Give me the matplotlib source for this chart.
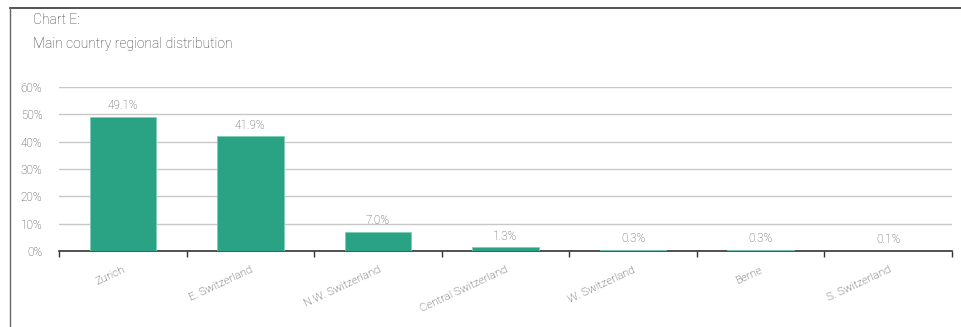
import numpy as np
import matplotlib.pyplot as plt
from matplotlib.lines import Line2D

regions = ['Zurich', 'E. Switzerland', 'N.W. Switzerland', 'Central Switzerland',
           'W. Switzerland', 'Berne', 'S. Switzerland']
shares = [49.1, 41.9, 7.0, 1.3, 0.3, 0.3, 0.1]
y_ticks = [0, 10, 20, 30, 40, 50, 60]

plt.rcParams['font.family'] = ['Roboto', 'DejaVu Sans']
plt.rcParams['font.weight'] = 'light'
text_color = '#3a3a3a'
bar_color = '#2aa384'

fig = plt.figure(figsize=(9.61, 3.27), dpi=100)
ax = fig.add_axes([0.0614, 0.2324, 0.9292, 0.5016])

x = np.arange(len(regions))
ax.bar(x, shares, width=0.52, color=bar_color, edgecolor='#7fcdb5', linewidth=0.6, zorder=3)
for xi, v in zip(x, shares):
    ax.text(xi, v + 1.8, '%.1f%%' % v, ha='center', va='bottom', fontsize=8.5, color='#555555')

ax.set_xlim(-0.5, len(regions) - 0.5)
ax.set_ylim(0, 60)
ax.set_yticks(y_ticks)
ax.set_yticklabels(['%d%%' % t for t in y_ticks], fontsize=8.5, color='#444444')
ax.yaxis.grid(True, color='#c8c8c8', linewidth=1.0, zorder=0)
ax.tick_params(axis='y', length=0, pad=12)

# category separators as ticks under the baseline
ax.set_xticks(np.arange(len(regions) + 1) - 0.5)
ax.set_xticklabels([])
ax.tick_params(axis='x', which='major', length=4, width=1, color='#333333', direction='out')
ax.set_xticks(x, minor=True)
ax.set_xticklabels(regions, minor=True, rotation=25, ha='right', rotation_mode='anchor',
                   fontsize=8.2, color='#333333')
ax.tick_params(axis='x', which='minor', length=0, pad=10)

for side in ['top', 'right', 'left']:
    ax.spines[side].set_visible(False)
ax.spines['bottom'].set_color('#333333')
ax.spines['bottom'].set_linewidth(1.2)

# outer frame lines
fig.add_artist(Line2D([10 / 961, 1], [1 - 8 / 327, 1 - 8 / 327], color='#333333', linewidth=1.2))
fig.add_artist(Line2D([10 / 961, 10 / 961], [0, 1 - 8 / 327], color='#666666', linewidth=1.0))

fig.text(33 / 961, 1 - 20 / 327, 'Chart E:', fontsize=10, color=text_color, va='center')
fig.text(33 / 961, 1 - 44 / 327, 'Main country regional distribution', fontsize=10,
         color=text_color, va='center')

fig.savefig('out.png', dpi=100)
